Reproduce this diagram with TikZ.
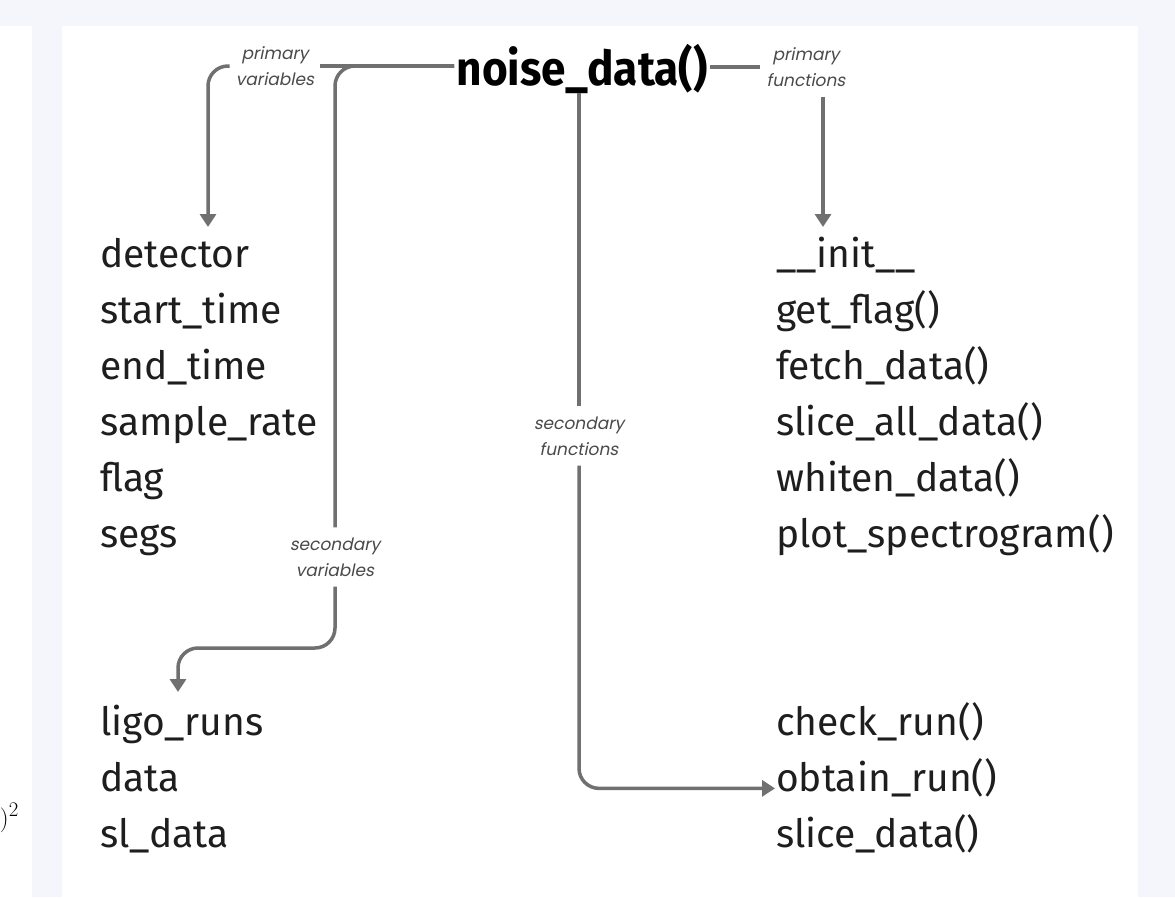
\documentclass[tikz,border=0pt]{standalone}
\usepackage{fontspec}
\setmainfont{Fira Sans}
\newfontfamily\titlefont{Fira Sans}[FakeStretch=0.92]
\newfontfamily\notefont{Poppins}[FakeSlant=0.2]
\usetikzlibrary{arrows.meta}

\definecolor{pagebg}{HTML}{F4F6FB}
\definecolor{linkgray}{HTML}{707070}
\definecolor{inkblack}{HTML}{1E1E1E}
\definecolor{notegray}{HTML}{4A4A4A}

\begin{document}
\begin{tikzpicture}[x=1pt,y=-1pt,
  item/.style={anchor=base west, inner sep=0pt, text=inkblack,
    font=\fontsize{39}{47}\selectfont},
  note/.style={align=center, inner xsep=6pt, inner ysep=10pt, text=notegray,
    font=\notefont\fontsize{17}{26}\selectfont},
  link/.style={draw=linkgray, line width=3.5pt},
  arr/.style={link, -{Triangle[width=16pt,length=13pt]}},
  curvy/.style={rounded corners=20pt}]

% page background and white panels
\fill[pagebg] (0,0) rectangle (1175,897);
\fill[white] (0,26) rectangle (32,897);
\fill[white] (62,26) rectangle (1138,897);
\useasboundingbox (0,0) rectangle (1175,897);

% stray formula fragment at the left edge
\node[anchor=base east, inner sep=0pt, font=\fontsize{30}{30}\selectfont]
  (frag) at (19,826) {$)^2$};

% class name
\node[anchor=base, inner xsep=2pt, inner ysep=0pt, text=black,
  font=\titlefont\bfseries\fontsize{48}{56}\selectfont] (t) at (582,85) {noise\_data()};

% category labels
\node[note] (lpv) at (275,66) {primary\\variables};
\node[note] (lpf) at (806,67) {primary\\functions};
\node[note] (lsf) at (579,436) {secondary\\functions};
\node[note] (lsv) at (335,557) {secondary\\variables};

% primary variables
\node[item] (det) at (100,267) {detector};
\node[item] (st)  at (100,323) {start\_time};
\node[item] (et)  at (100,379) {end\_time};
\node[item] (sr)  at (100,435) {sample\_rate};
\node[item] (fl)  at (100,491) {flag};
\node[item] (sg)  at (100,547) {segs};

% primary functions
\node[item] (ini) at (776,267) {\_\_init\_\_};
\node[item] (gf)  at (776,323) {get\_flag()};
\node[item] (fd)  at (776,379) {fetch\_data()};
\node[item] (sad) at (776,435) {slice\_all\_data()};
\node[item] (wd)  at (776,491) {whiten\_data()};
\node[item] (ps)  at (776,547) {plot\_spectrogram()};

% secondary variables
\node[item] (lr)  at (100,735) {ligo\_runs};
\node[item] (dt)  at (100,791) {data};
\node[item] (sl)  at (100,847) {sl\_data};

% secondary functions
\node[item] (cr)  at (776,735) {check\_run()};
\node[item, inner xsep=1pt] (obt) at (775,791) {obtain\_run()};
\node[item] (sd)  at (776,847) {slice\_data()};

% arrow targets
\coordinate (a1) at (208,227);
\coordinate (a2) at (823,227);
\coordinate (k3) at (178,648);
\coordinate (a3) at (178,692);

% connectors
\draw[link] (lpv.east) -- (lpv.east -| t.west);
\draw[arr, curvy] (lpv.west) -| (a1);
\draw[link, curvy] (lpv.east -| t.west) -| (lsv.north);
\draw[arr, curvy] (lsv.south) |- (k3) -- (a3);

\draw[link] (t.east |- lpf.west) -- (lpf.west);
\draw[arr] (lpf.south -| a2) -- (a2);

\draw[link] (t.south -| lsf.north) -- (lsf.north);
\draw[arr, curvy] (lsf.south) |- (obt.mid west);
\end{tikzpicture}
\end{document}
